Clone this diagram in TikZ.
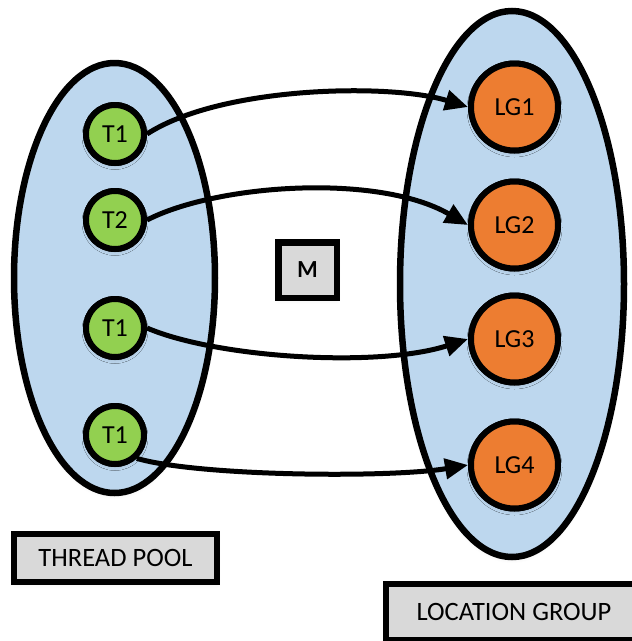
\documentclass[tikz,border=0pt]{standalone}
\usepackage{fontspec}
\setmainfont{Carlito}
\newfontfamily\heavyface{Lato}
\usetikzlibrary{arrows.meta,shapes.geometric,shadows.blur}
\definecolor{poolblue}{HTML}{BDD7EE}
\definecolor{thrgreen}{HTML}{92D050}
\definecolor{grporange}{HTML}{ED7D31}
\definecolor{boxgray}{HTML}{D9D9D9}

\begin{document}
\begin{tikzpicture}[x=1pt,y=-1pt,
  glow/.style={blur shadow={shadow xshift=0pt,shadow yshift=-2.5pt,
      shadow blur radius=4pt,shadow opacity=8,shadow blur steps=6}},
  group/.style={ellipse,draw,line width=6.5pt,fill=poolblue,inner sep=0pt,glow},
  thread/.style={circle,draw,line width=6pt,fill=thrgreen,inner sep=0pt,
      minimum size=58pt,glow,font=\fontsize{26}{31}\selectfont},
  locgroup/.style={circle,draw,line width=6pt,fill=grporange,inner sep=0pt,
      minimum size=87pt,glow,font=\fontsize{26}{31}\selectfont},
  caption/.style={rectangle,draw,line width=6pt,fill=boxgray,inner sep=0pt,
      glow,font=\fontsize{26.5}{31}\selectfont},
  link/.style={line width=5pt,-{Triangle[length=23pt,width=20pt]}}
]
\path[use as bounding box,clip] (0,0) rectangle (632,641);

% the two containers
\node[group,minimum width=201pt,minimum height=430pt] (pool) at (114.5,278) {};
\node[group,minimum width=224pt,minimum height=546pt] (loc) at (512,284) {};

% centres of the threads and location groups
\coordinate (c1) at (115,134);
\coordinate (c2) at (115,220);
\coordinate (c3) at (115,328);
\coordinate (c4) at (115,435);
\coordinate (g1) at (514.5,107);
\coordinate (g2) at (514.5,225);
\coordinate (g3) at (514.5,339);
\coordinate (g4) at (514.5,465);

\node[thread] (t1) at (c1) {T1};
\node[thread] (t2) at (c2) {T2};
\node[thread] (t3) at (c3) {T1};
\node[thread] (t4) at (c4) {T1};
\node[locgroup] (lg1) at (g1) {LG1};
\node[locgroup] (lg2) at (g2) {LG2};
\node[locgroup] (lg3) at (g3) {LG3};
\node[locgroup] (lg4) at (g4) {LG4};

% connectors
\draw[link] (t1.east) .. controls +(74,-48) and +(-78,-24) .. (lg1.west);
\draw[link] (t2.east) .. controls +(70,-36) and +(-90,-52) .. (lg2.west);
\draw[link] (t3.east) .. controls +(70,30) and +(-90,29) .. (lg3.west);
\draw[link] (t4.-47) .. controls +(62,18) and +(-78,13) .. (lg4.west);

% circles again, above the connectors
\node[thread] at (c1) {T1};
\node[thread] at (c2) {T2};
\node[thread] at (c3) {T1};
\node[thread] at (c4) {T1};
\node[locgroup] at (g1) {LG1};
\node[locgroup] at (g2) {LG2};
\node[locgroup] at (g3) {LG3};
\node[locgroup] at (g4) {LG4};

% manager box and captions
\node[rectangle,draw,line width=6.5pt,fill=boxgray,minimum width=58.5pt,
      minimum height=55.5pt,glow,font=\heavyface\bfseries\fontsize{22}{26}\selectfont]
      (m) at (307.5,270) {M};
\node[caption,minimum width=203pt,minimum height=48pt] (tp) at (115.5,558) {THREAD POOL};
\node[caption,minimum width=256pt,minimum height=56pt] (lgcap) at (514,612) {LOCATION GROUP};
\end{tikzpicture}
\end{document}
